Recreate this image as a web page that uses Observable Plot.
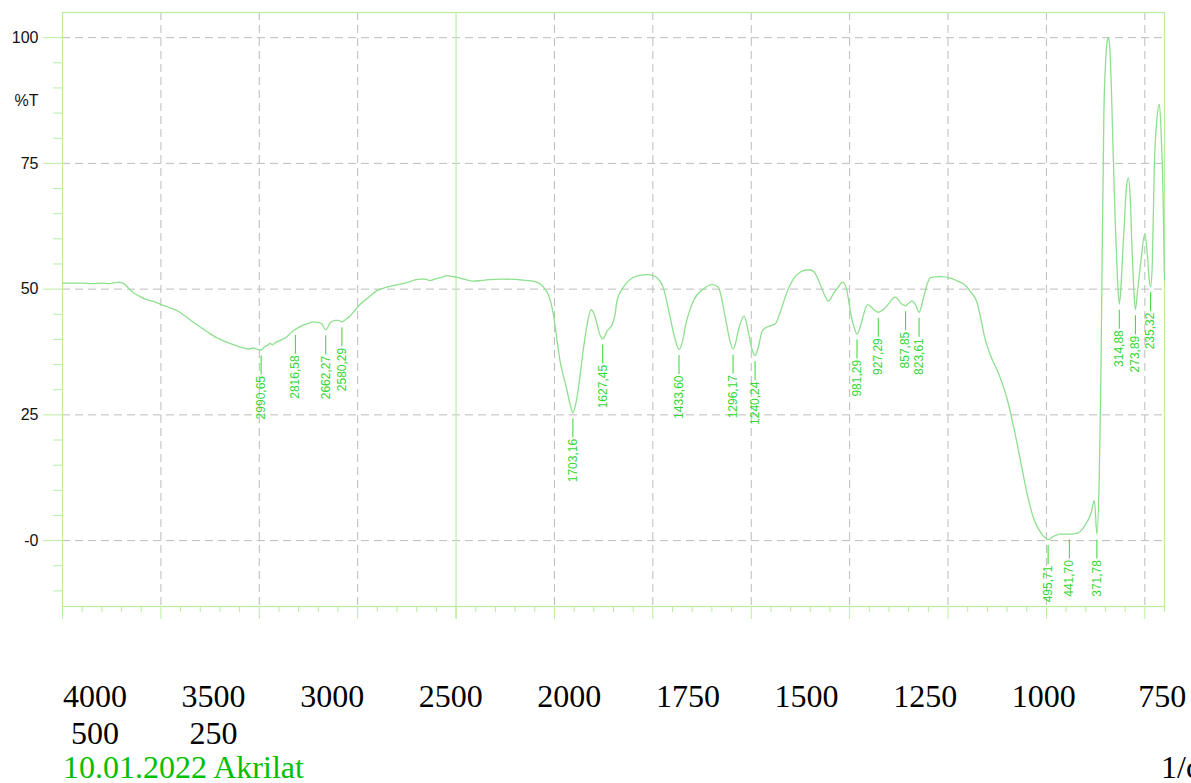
<!DOCTYPE html>
<html>
<head>
<meta charset="utf-8">
<script src="https://cdn.jsdelivr.net/npm/d3@7"></script>
<script src="https://cdn.jsdelivr.net/npm/@observablehq/plot@0.6"></script>
<style>
  html, body { margin: 0; padding: 0; overflow: hidden; background: #fff; }
  body { width: 1191px; height: 783px; position: relative; }
  #chart { position: absolute; left: 0; top: 0; }
  #xlabels { position: absolute; left: 35.7px; top: 678px; width: 1186px; display: flex; flex-wrap: wrap;
    font-family: "Liberation Serif", "Times New Roman", serif; font-size: 32px; line-height: 37px; color: #000; }
  #xlabels span { display: block; width: 118.6px; text-align: center; }
  #foot { position: absolute; left: 63px; top: 749px; font-family: "Liberation Serif", "Times New Roman", serif;
    font-size: 32px; line-height: 37px; color: #00c000; white-space: nowrap; }
  #unit { position: absolute; left: 1161px; top: 749px; font-family: "Liberation Serif", "Times New Roman", serif;
    font-size: 32px; line-height: 37px; color: #000; white-space: nowrap; }
</style>
</head>
<body>
<div id="chart"></div>
<div id="xlabels"></div>
<div id="foot"></div>
<div id="unit"></div>
<script>
// ---- data ----
const wavenumber = [4000,3950,3900,3850,3800,3760,3730,3716,3700,3685,3660,3640,3610,3579,3540,3503,3460,3416,3375,3335,3290,3249,3205,3162,3120,3081,3050,3030,3010,2990.65,2975,2959,2944,2935,2920,2893,2858,2835,2816.58,2790,2756,2726,2706,2685,2662.27,2640,2614,2599,2580.29,2560,2540,2523,2487,2447,2401,2360,2320,2259,2183,2157,2132,2107,2070,2046,2020,2000,1990,1957,1926,1888,1830,1799,1786,1774,1766,1753,1743,1736,1728,1718,1710,1703.16,1697,1690,1677,1667,1657,1649,1642,1635,1627.45,1616,1603,1596,1591,1578,1565,1550,1532,1515,1499,1486,1474,1456,1445,1433.6,1425,1418,1397,1372,1349,1334,1316,1305,1296.17,1290,1283,1268,1258,1248,1240.24,1232,1222,1212,1202,1189,1176,1158,1143,1125,1110,1100,1090,1082,1070,1062,1054,1042,1031,1017,1007,997,989,981.29,975,969,954,939,927.29,915,905,884,867,857.85,849,841,832,823.61,812,803,795,770,744,726,710,693,676,665,659,642,621,600,583,566,549,532,515,505,495.71,481,465,441.7,421,404,387,378,371.78,366,362,359,354,349,345,342,339,335,330,325,320,314.88,311,307,302,297,292,287,283,278,273.89,268,260,250,243,239,235.32,231,226,219,213,208,204,200];
const transmittance = [51.2,51.2,51.2,51.1,51.2,51.1,51.3,51.4,51.3,51.0,50.0,49.3,48.6,48.0,47.6,47.0,46.4,45.7,44.6,43.4,42.2,41.1,40.1,39.4,38.8,38.3,38.1,38.3,38.0,37.9,38.5,38.8,39.2,38.9,39.3,39.8,40.6,41.5,42.0,42.6,43.1,43.5,43.4,43.2,41.9,43.3,43.8,43.8,43.5,44.0,44.6,45.4,47.0,48.3,49.7,50.3,50.7,51.2,52.0,52.0,51.7,52.0,52.4,52.7,52.5,52.4,52.2,51.6,51.8,52.0,51.8,51.5,51.0,50.0,49.0,45.1,39.5,35.8,33.0,29.8,27.0,25.4,26.8,29.8,37.8,43.0,45.9,45.0,43.1,41.0,40.1,41.7,43.0,45.0,47.7,50.0,51.4,52.3,52.8,52.9,52.7,52.0,50.4,44.4,40.5,38.0,39.5,42.4,47.7,50.0,50.9,50.4,44.4,40.0,38.1,39.2,41.7,44.7,41.7,38.0,36.8,38.5,41.7,42.4,42.7,43.1,45.5,49.7,52.0,53.4,53.8,53.8,53.4,52.3,50.0,48.5,47.6,49.0,50.2,51.4,49.7,45.1,42.5,41.1,42.0,43.7,46.9,46.0,45.4,45.9,46.7,48.4,47.0,46.7,47.3,47.6,46.8,45.4,48.4,51.0,52.3,52.5,52.2,51.6,51.0,49.5,47.3,43.5,41.1,36.8,33.1,28.2,22.5,15.9,9.3,4.3,1.65,0.7,0.2,0.9,1.3,1.3,1.5,2.8,5.4,8.0,1.3,12,30,52,85,96,99.5,100,98,90,76,63,53,47.0,50,56,63,70,72.1,68,59.2,50,45.9,50,55.5,61.0,56.3,52,50.5,55,74,84,86.8,80,70.2,51.8];

const peakWavenumber = [2990.65,2816.58,2662.27,2580.29,1703.16,1627.45,1433.60,1296.17,1240.24,981.29,927.29,857.85,823.61,495.71,441.70,371.78,314.88,273.89,235.32];
const peakTransmittance = [37.9,42.0,41.9,43.5,25.4,40.1,38.0,38.1,36.8,41.1,45.4,46.7,45.4,0.2,1.3,1.3,47.0,45.9,50.5];

const yMajorTicks = [100, 75, 50, 25, 0];
const yMinorTicks = [95,90,85,80,70,65,60,55,45,40,35,30,20,15,10,5,-5,-10];
const xMajorTicks = [4000,3500,3000,2500,2000,1750,1500,1250,1000,750,500,250];
const xTickLabels = ["4000","3500","3000","2500","2000","1750","1500","1250","1000","750","500","250"];
const yTitle = "%T";
const footText = "10.01.2022 Akrilat";
const unitText = "1/cm";

// ---- axis geometry: the instrument halves the scale above 2000 1/cm ----
const wnBreak = 2000;
const wnToAxis = w => w >= wnBreak ? (4000 - w) / 2 : 1000 + (wnBreak - w);
const W = 1191, H = 625;
const mTop = 12, mLeft = 62, mRight = 27, mBottom = 19;
const xDomain = [wnToAxis(4000), wnToAxis(200)];
const yDomain = [-13.1, 105];
const kY = (yDomain[1] - yDomain[0]) / (H - mBottom - mTop); // data units per px
const kX = (xDomain[1] - xDomain[0]) / (W - mLeft - mRight);
const yMin = yDomain[0];

const xMinorTicks = [];
for (let v = 4000; v >= 2000; v -= 100) if (!xMajorTicks.includes(v)) xMinorTicks.push(v);
for (let v = 2000; v >= 200; v -= 50) if (!xMajorTicks.includes(v)) xMinorTicks.push(v);
const xGrid = xMajorTicks.filter(v => v !== 4000 && v !== 2000);

const spectrum = wavenumber.map((w, i) => ({w, t: transmittance[i]}));
const peaks = peakWavenumber.map((w, i) => ({w, t: peakTransmittance[i], label: w.toFixed(2).replace(".", ",")}));

const axisGreen = "#b9ef9c";
const curveGreen = "#8ee08e";
const labelGreen = "#35d635";
const gridGray = "#bcbcbc";
const sans = "'Liberation Sans', Arial, Helvetica, sans-serif";
const X = d => wnToAxis(d);

const chart = Plot.plot({
  width: W, height: H,
  marginTop: mTop, marginLeft: mLeft, marginRight: mRight, marginBottom: mBottom,
  style: {fontFamily: sans, background: "transparent", overflow: "visible"},
  x: {domain: xDomain, axis: null},
  y: {domain: yDomain, axis: null},
  marks: [
    Plot.ruleY(yMajorTicks, {stroke: gridGray, strokeDasharray: "8,5", strokeWidth: 1}),
    Plot.ruleX(xGrid, {x: X, stroke: gridGray, strokeDasharray: "8,5", strokeWidth: 1}),
    Plot.frame({stroke: axisGreen, strokeWidth: 1.2}),
    Plot.ruleX([2000], {x: X, y1: yDomain[1], y2: yMin - 13 * kY, stroke: axisGreen, strokeWidth: 1.2}),
    Plot.ruleX(xMajorTicks, {x: X, y1: yMin, y2: yMin - 13 * kY, stroke: axisGreen, strokeWidth: 1}),
    Plot.ruleX(xMinorTicks, {x: X, y1: yMin, y2: yMin - 6 * kY, stroke: axisGreen, strokeWidth: 1}),
    Plot.ruleY(yMajorTicks, {y: d => d, x1: xDomain[0], x2: xDomain[0] - 19 * kX, stroke: axisGreen, strokeWidth: 1}),
    Plot.ruleY(yMinorTicks, {y: d => d, x1: xDomain[0], x2: xDomain[0] - 9 * kX, stroke: axisGreen, strokeWidth: 1}),
    Plot.text(yMajorTicks, {x: () => xDomain[0], y: d => d, text: d => d === 0 ? "-0" : String(d), dx: -24, textAnchor: "end", fontSize: 16, fill: "#111"}),
    Plot.text([yTitle], {x: () => xDomain[0], y: () => 87.5, text: d => d, dx: -24, textAnchor: "end", fontSize: 16, fill: "#111"}),
    Plot.line(spectrum, {x: d => X(d.w), y: "t", stroke: curveGreen, strokeWidth: 1.3, curve: "monotone-x"}),
    Plot.ruleX(peaks, {x: d => X(d.w), y1: d => d.t - 6 * kY, y2: d => d.t - 25 * kY, stroke: labelGreen, strokeWidth: 1}),
    Plot.text(peaks, {x: d => X(d.w), y: "t", text: "label", rotate: -90, textAnchor: "end", lineAnchor: "middle", dy: 26, fontSize: 12, fill: labelGreen})
  ]
});
document.getElementById("chart").appendChild(chart);

const xl = document.getElementById("xlabels");
xTickLabels.forEach(t => { const s = document.createElement("span"); s.textContent = t; xl.appendChild(s); });
document.getElementById("foot").textContent = footText;
document.getElementById("unit").textContent = unitText;
</script>
</body>
</html>
